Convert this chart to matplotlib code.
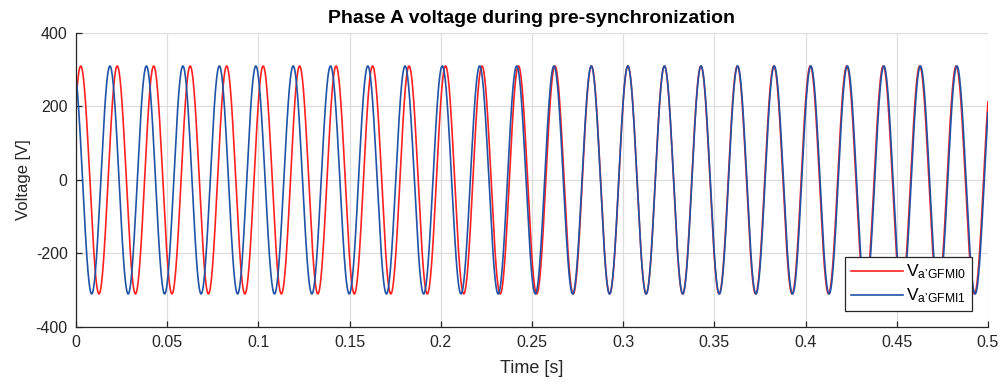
import numpy as np
import matplotlib
matplotlib.use('Agg')
from matplotlib import pyplot as plt

# values
amplitude = 310.0          # V, both inverters
freq = 50.0                # Hz
red_peak_time = 0.0026     # s, first peak of GFMI0
# lead of GFMI1 over GFMI0 (s), read at these times
lead_times = [0.0, 0.05, 0.10, 0.12, 0.15, 0.18, 0.20, 0.22, 0.24, 0.26, 0.28, 0.40, 0.50]
lead_values = [0.0040, 0.0040, 0.0040, 0.0035, 0.0028, 0.0022, 0.0018, 0.0013, 0.0010, 0.0006, 0.0001, -0.0003, -0.0004]

labels = ["V$_{\\mathrm{a\u2019GFMI0}}$", "V$_{\\mathrm{a\u2019GFMI1}}$"]
x_ticks = [0, 0.05, 0.1, 0.15, 0.2, 0.25, 0.3, 0.35, 0.4, 0.45, 0.5]
x_ticklabels = ['0', '0.05', '0.1', '0.15', '0.2', '0.25', '0.3', '0.35', '0.4', '0.45', '0.5']
y_ticks = [-400, -200, 0, 200, 400]


def main():
    plt.rcParams['font.family'] = ['Liberation Sans', 'DejaVu Sans']
    plt.rcParams['mathtext.fontset'] = 'custom'
    plt.rcParams['mathtext.rm'] = 'Liberation Sans'
    plt.rcParams['mathtext.it'] = 'Liberation Sans:italic'
    plt.rcParams['axes.unicode_minus'] = False

    t = np.linspace(0, 0.5, 20001)
    lead = np.interp(t, lead_times, lead_values)
    v0 = amplitude * np.cos(2 * np.pi * freq * (t - red_peak_time))
    v1 = amplitude * np.cos(2 * np.pi * freq * (t - red_peak_time + lead))

    fig = plt.figure(figsize=(10.04, 3.87), dpi=100)
    ax = fig.add_axes([0.0757, 0.155, 0.9083, 0.760])

    ax.plot(t, v0, color='#ff2020', lw=1.2, label=labels[0])
    ax.plot(t, v1, color='#2053a6', lw=1.2, label=labels[1])

    ax.set_xlim(0, 0.5)
    ax.set_ylim(-400, 400)
    ax.set_xticks(x_ticks)
    ax.set_xticklabels(x_ticklabels)
    ax.set_yticks(y_ticks)
    ax.grid(True, color='#dedede', lw=0.9)
    ax.set_axisbelow(True)
    ax.tick_params(direction='in', length=4, width=0.9, labelsize=11.5,
                   colors='#262626', pad=6)
    ax.spines['top'].set_visible(False)
    ax.spines['right'].set_visible(False)
    for s in ['left', 'bottom']:
        ax.spines[s].set_color('#262626')
        ax.spines[s].set_linewidth(0.9)

    ax.set_xlabel('Time [s]', fontsize=13, color='#262626', labelpad=7)
    ax.set_ylabel('Voltage [V]', fontsize=12, color='#262626', labelpad=3)
    ax.set_title('Phase A voltage during pre-synchronization', fontsize=14,
                 fontweight='bold', pad=7)

    leg = ax.legend(loc='lower right', fontsize=12.5, fancybox=False, framealpha=1,
                    edgecolor='#262626', handlelength=3.0, borderaxespad=0.9,
                    borderpad=0.35, labelspacing=0.3, handletextpad=0.2)
    leg.get_frame().set_linewidth(0.9)

    plt.savefig('out.png', dpi=100)


if __name__ == "__main__":
    main()
